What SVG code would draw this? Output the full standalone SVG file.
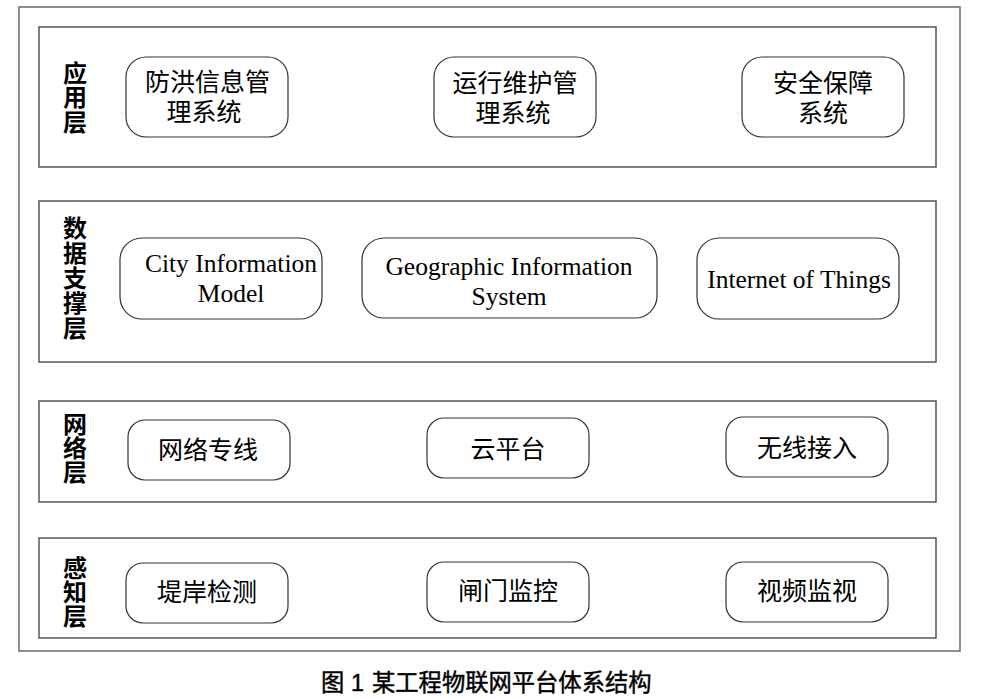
<svg xmlns="http://www.w3.org/2000/svg" width="987" height="699" viewBox="0 0 987 699">
<style>
.frame{fill:none;stroke:#6a6a6a;stroke-width:1.5}
.layer{fill:none;stroke:#555;stroke-width:1.5}
.node{fill:#fff;stroke:#333;stroke-width:1.2}
.lbl{font-family:"Noto Sans CJK SC","Liberation Sans",sans-serif;font-weight:bold;font-size:24px;fill:#000;writing-mode:vertical-rl;text-orientation:upright}
.cn{font-family:"Liberation Serif","Noto Sans CJK SC",sans-serif;font-size:25px;fill:#000;text-anchor:middle}
.en{font-family:"Liberation Serif",serif;font-size:25.5px;fill:#000;text-anchor:middle}
.cap{font-family:"Liberation Sans","Noto Sans CJK SC",sans-serif;font-size:23.3px;fill:#000;stroke:#000;stroke-width:0.45}
</style>
<rect width="987" height="699" fill="#fff"/>
<rect class="frame" x="19" y="7" width="941" height="644"/>
<g id="layer-app">
<rect class="layer" x="39" y="27" width="897" height="140"/>
<text class="lbl" x="75" y="61" letter-spacing="0.3">应用层</text>
</g>
<g id="layer-data">
<rect class="layer" x="39" y="201" width="897" height="161"/>
<text class="lbl" x="75" y="216" letter-spacing="1">数据支撑层</text>
</g>
<g id="layer-net">
<rect class="layer" x="39" y="401" width="897" height="101"/>
<text class="lbl" x="75" y="412">网络层</text>
</g>
<g id="layer-sense">
<rect class="layer" x="39" y="538" width="897" height="100"/>
<text class="lbl" x="75" y="556">感知层</text>
</g>
<g id="node-flood">
<rect class="node" x="126" y="57" width="162" height="80" rx="20"/>
<text class="cn" x="207.5" y="90.5">防洪信息管</text>
<text class="cn" x="204" y="120.5">理系统</text>
</g>
<g id="node-om">
<rect class="node" x="434" y="57" width="162" height="80" rx="20"/>
<text class="cn" x="515" y="91.5">运行维护管</text>
<text class="cn" x="513" y="121.5">理系统</text>
</g>
<g id="node-sec">
<rect class="node" x="742" y="57" width="162" height="80" rx="20"/>
<text class="cn" x="823" y="91.5">安全保障</text>
<text class="cn" x="823" y="121.5">系统</text>
</g>
<g id="node-cim">
<rect class="node" x="120" y="238" width="202" height="81" rx="22"/>
<text class="en"><tspan x="231" y="272">City Information</tspan><tspan x="231" y="302">Model</tspan></text>
</g>
<g id="node-gis">
<rect class="node" x="362" y="238" width="295" height="80" rx="22"/>
<text class="en"><tspan x="509" y="275">Geographic Information</tspan><tspan x="509" y="305">System</tspan></text>
</g>
<g id="node-iot">
<rect class="node" x="697" y="238" width="202" height="81" rx="22"/>
<text class="en" x="799" y="288">Internet of Things</text>
</g>
<g id="node-line">
<rect class="node" x="128" y="420" width="162" height="60" rx="17"/>
<text class="cn" x="208" y="458.5">网络专线</text>
</g>
<g id="node-cloud">
<rect class="node" x="427" y="418" width="162" height="60" rx="17"/>
<text class="cn" x="508" y="458">云平台</text>
</g>
<g id="node-wireless">
<rect class="node" x="726" y="417" width="162" height="60" rx="17"/>
<text class="cn" x="807" y="456.5">无线接入</text>
</g>
<g id="node-bank">
<rect class="node" x="126" y="563" width="162" height="60" rx="17"/>
<text class="cn" x="207" y="600.5">堤岸检测</text>
</g>
<g id="node-gate">
<rect class="node" x="427" y="562" width="162" height="60" rx="17"/>
<text class="cn" x="508" y="599.5">闸门监控</text>
</g>
<g id="node-video">
<rect class="node" x="726" y="562" width="162" height="60" rx="17"/>
<text class="cn" x="807" y="599.5">视频监视</text>
</g>
<g id="connectors"></g>
<text class="cap"><tspan x="321" y="691">图</tspan><tspan x="351" y="691">1</tspan><tspan x="372" y="691">某工程物联网平台体系结构</tspan></text>
</svg>
